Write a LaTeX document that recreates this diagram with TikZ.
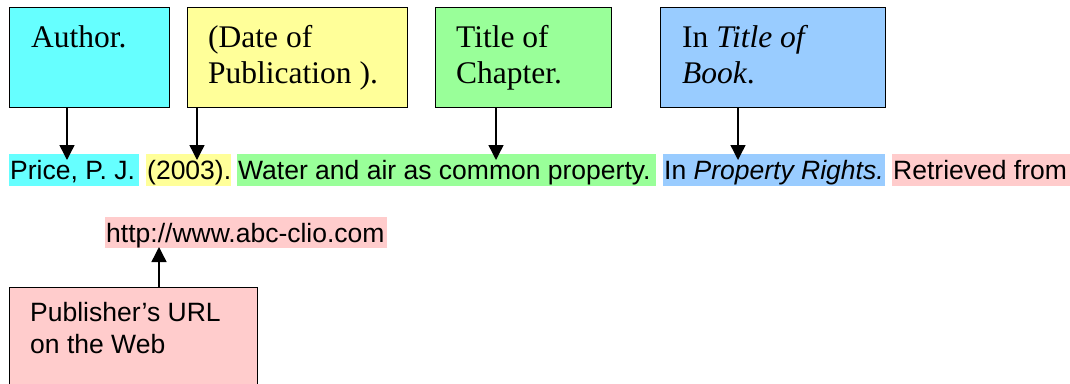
\documentclass[tikz,border=0pt]{standalone}
\usepackage{fontspec}
\setmainfont{Liberation Serif}
\setsansfont{Liberation Sans}
\usetikzlibrary{arrows.meta}
\definecolor{cyanc}{HTML}{66FFFF}
\definecolor{yellowc}{HTML}{FFFF99}
\definecolor{greenc}{HTML}{99FF99}
\definecolor{bluec}{HTML}{99CCFF}
\definecolor{pinkc}{HTML}{FFCCCC}
\newcommand{\twolns}[3]{\vtop{\baselineskip=#1pt\hbox{#2}\hbox{#3}}}
\tikzset{
  labelbox/.style={draw=black, line width=1.3pt, inner sep=0pt, anchor=north west},
  seriftext/.style={anchor=base west, inner sep=0pt, font=\rmfamily\fontsize{31.5}{36}\selectfont},
  sanstext/.style={anchor=base west, inner sep=0pt, font=\sffamily\fontsize{26.5}{32}\selectfont},
  hl/.style={anchor=base west, inner xsep=1pt, inner ysep=0pt, text height=25pt, text depth=7pt, font=\sffamily\fontsize{26.5}{32}\selectfont},
  arr/.style={line width=1.4pt, -{Triangle[width=15pt,length=15pt]}}
}
\begin{document}
\begin{tikzpicture}[x=1pt,y=-1pt]
\useasboundingbox (0,0) rectangle (1070,383);
\clip (0,0) rectangle (1070,383);
% top boxes
\node[labelbox, fill=cyanc, minimum width=160pt, minimum height=100pt] (author) at (9,7) {};
\node[labelbox, fill=yellowc, minimum width=220pt, minimum height=100pt] (date) at (187,7) {};
\node[labelbox, fill=greenc, minimum width=176pt, minimum height=100pt] (chapter) at (435,7) {};
\node[labelbox, fill=bluec, minimum width=225pt, minimum height=100pt] (book) at (660,7) {};
\node[seriftext] (authort) at (31,47) {Author.};
\node[seriftext] (datet) at (208,47) {\twolns{36}{(Date of}{Publication ).}};
\node[seriftext] (chaptert) at (456,47) {\twolns{36}{Title of}{Chapter.}};
\node[seriftext] (bookt) at (682,47) {\twolns{36}{In \textit{Title of}}{\textit{Book}.}};
% citation line
\node[hl, fill=cyanc] (c1) at (9,179) {\makebox[128pt][l]{Price, P. J.}};
\node[hl, fill=yellowc] (c2) at (146,179) {\makebox[83pt][l]{(2003).}};
\node[hl, fill=greenc] (c3) at (237,179) {\makebox[417pt][l]{Water and air as common property.}};
\node[hl, fill=bluec] (c4) at (663,179) {\makebox[220pt][l]{In \textit{Property Rights.}}};
\node[hl, fill=pinkc] (c5) at (892,179) {\makebox[180pt][l]{Retrieved from}};
% url
\node[hl, fill=pinkc, text height=25pt, text depth=6pt] (url) at (105,242) {\makebox[280pt][l]{http://www.abc-clio.com}};
% publisher box
\node[labelbox, fill=pinkc, minimum width=248pt, minimum height=120pt] (pub) at (9,287) {};
\node[sanstext] (pubt) at (30,321) {\twolns{32}{Publisher’s URL}{on the Web}};
% arrows
\coordinate (a1) at (67,160);
\coordinate (a2) at (197,160);
\coordinate (a3) at (496,160);
\coordinate (a4) at (738,160);
\coordinate (a5) at (159,247);
\draw[arr] (author.south -| a1) -- (a1);
\draw[arr] (date.south -| a2) -- (a2);
\draw[arr] (chapter.south -| a3) -- (a3);
\draw[arr] (book.south -| a4) -- (a4);
\draw[arr] (pub.north -| a5) -- (a5);
\end{tikzpicture}
\end{document}
